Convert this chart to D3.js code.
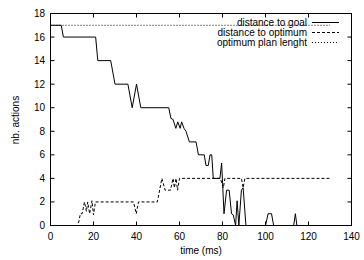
<!DOCTYPE html>
<html><head><meta charset="utf-8">
<script src="https://cdn.jsdelivr.net/npm/d3@7"></script>
<style>body{margin:0;background:#fff}svg{display:block}text{font-family:"Liberation Sans",Arial,sans-serif;font-size:10px;fill:#000}</style>
</head><body><svg id="c" width="364" height="260"></svg>
<script>
const xTicks = [0,20,40,60,80,100,120,140];
const yTicks = [0,2,4,6,8,10,12,14,16,18];
const seriesNames = ["distance to goal","distance to optimum","optimum plan lenght"];
const goalT = [0,5,6,21,22,28,30,36,38,40,42,55,56,57,58.3,59.2,60.3,61,62.1,63,64.6,67.7,68.8,71.5,72.3,73.4,74.2,75,75.7,78.8,79.6,80.7,81.9,83.1,84.2,85,86.1,86.8,87.6,88.8,89.6,90.9,100,101.2,102.8,103.8,113.1,113.9,114.6,130];
const goalV = [17,17,16,16,14,14,12,12,10,12,10,10,9.1,9,8.25,8.8,8.25,8.8,8.25,8,7.1,7.1,6,6,5.1,5.1,6,6,4,4,5.3,1,3,3,1,0.9,0,2.1,0,3,3.2,0,0,1,1,0,0,1,0,0];
const optT = [0,12.8,13.9,14.7,15.8,16.7,17.3,18.2,19.3,20,20.9,38.6,39.9,40.9,49.7,51.8,53.3,55.8,57,57.6,58.4,59.1,60,79,80.4,81.1,88.8,89.6,90.4,130];
const optV = [0,0,1,1,2,1.2,2,1,2.1,0.9,2,2,1,2,2,4,3,3,4,3.2,4,3,4,4,3.2,4,4,3.2,4,4];
const planT = [0,130];
const planV = [17,17];

const svg = d3.select("#c");
const x = d3.scaleLinear().domain([0,140]).range([50.5,351.5]);
const y = d3.scaleLinear().domain([0,18]).range([225.5,13.5]);
const line = d3.line().x(d=>x(d[0])).y(d=>y(d[1]));
const zip = (a,b)=>a.map((v,i)=>[v,b[i]]);

// series
svg.append("path").attr("d",line(zip(planT,planV))).attr("fill","none").attr("stroke","#000").attr("stroke-width",1).attr("stroke-dasharray","1,2");
svg.append("path").attr("d",line(zip(optT,optV))).attr("fill","none").attr("stroke","#000").attr("stroke-width",1).attr("stroke-dasharray","3,2");
svg.append("path").attr("d",line(zip(goalT,goalV))).attr("fill","none").attr("stroke","#000").attr("stroke-width",1);

// frame
svg.append("rect").attr("x",x(0)).attr("y",y(18)).attr("width",x(140)-x(0)).attr("height",y(0)-y(18)).attr("fill","none").attr("stroke","#000").attr("stroke-width",1);

// ticks inward on all sides
const tl = 4;
xTicks.forEach(t=>{
  svg.append("line").attr("x1",x(t)).attr("x2",x(t)).attr("y1",y(0)).attr("y2",y(0)-tl).attr("stroke","#000");
  svg.append("line").attr("x1",x(t)).attr("x2",x(t)).attr("y1",y(18)).attr("y2",y(18)+tl).attr("stroke","#000");
  svg.append("text").attr("x",x(t)).attr("y",240).attr("text-anchor","middle").text(t);
});
yTicks.forEach(t=>{
  svg.append("line").attr("x1",x(0)).attr("x2",x(0)+tl).attr("y1",y(t)).attr("y2",y(t)).attr("stroke","#000");
  svg.append("line").attr("x1",x(140)).attr("x2",x(140)-tl).attr("y1",y(t)).attr("y2",y(t)).attr("stroke","#000");
  svg.append("text").attr("x",45).attr("y",y(t)+3.5).attr("text-anchor","end").text(t);
});

// axis titles
svg.append("text").attr("x",201).attr("y",254).attr("text-anchor","middle").text("time (ms)");
svg.append("text").attr("transform","translate(18.5,120) rotate(-90)").attr("text-anchor","middle").text("nb. actions");

// legend
const dashes = [null,"3,2","1,2"];
seriesNames.forEach((n,i)=>{
  const yy = 22 + i*10;
  svg.append("text").attr("x",307).attr("y",yy+3.5).attr("text-anchor","end").text(n);
  const l = svg.append("line").attr("x1",312).attr("x2",339).attr("y1",yy+0.5).attr("y2",yy+0.5).attr("stroke","#000");
  if (dashes[i]) l.attr("stroke-dasharray",dashes[i]);
});
</script></body></html>
